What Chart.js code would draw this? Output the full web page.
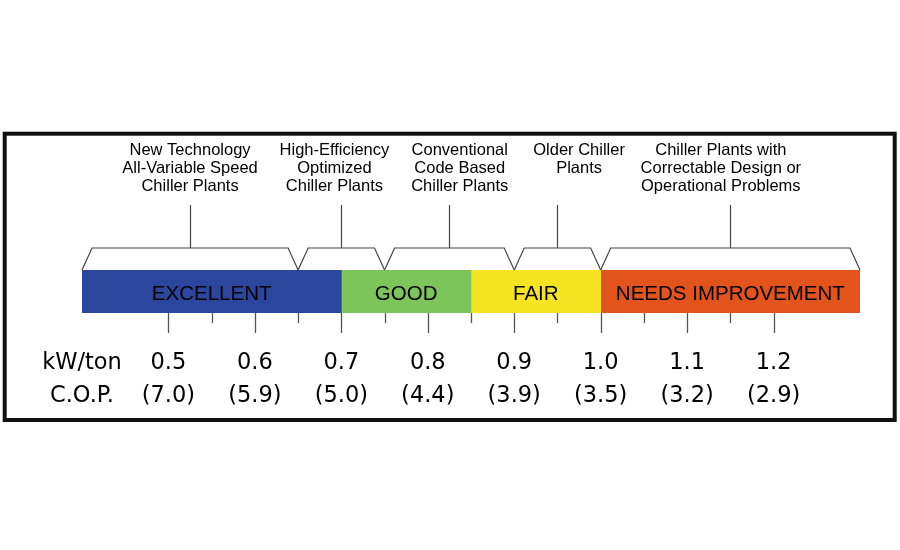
<!DOCTYPE html>
<html>
<head>
<meta charset="utf-8">
<script src="https://cdn.jsdelivr.net/npm/chart.js@4"></script>
<style>
  html, body { margin: 0; padding: 0; background: #fff; }
  canvas { display: block; }
</style>
</head>
<body>
<canvas id="scale" width="900" height="550"></canvas>
<script>
// efficiency bands (kW/ton)
const bands     = ['EXCELLENT', 'GOOD', 'FAIR', 'NEEDS IMPROVEMENT'];
const bandFrom  = [0.4, 0.7, 0.85, 1.0];
const bandTo    = [0.7, 0.85, 1.0, 1.3];
const bandColors = ['#2b469d', '#7dc55b', '#f6e423', '#e3541d'];

// tick labels
const kwTicks = [0.5, 0.6, 0.7, 0.8, 0.9, 1.0, 1.1, 1.2];
const copVals = [7.0, 5.9, 5.0, 4.4, 3.9, 3.5, 3.2, 2.9];

// plant types with their brackets
const groupFrom = [0.4, 0.65, 0.75, 0.9, 1.0];
const groupTo   = [0.65, 0.75, 0.9, 1.0, 1.3];
const groupText = [
  ['New Technology', 'All-Variable Speed', 'Chiller Plants'],
  ['High-Efficiency', 'Optimized', 'Chiller Plants'],
  ['Conventional', 'Code Based', 'Chiller Plants'],
  ['Older Chiller', 'Plants'],
  ['Chiller Plants with', 'Correctable Design or', 'Operational Problems']
];
const groupTextAt = [0.525, 0.692, 0.837, 0.975, 1.139];

const extras = {
  id: 'extras',
  afterDatasetsDraw(chart) {
    const ctx = chart.ctx, xs = chart.scales.x, a = chart.chartArea;
    const px = v => xs.getPixelForValue(v);
    ctx.save();

    // band names
    ctx.fillStyle = '#000';
    ctx.font = '20.5px "Liberation Sans", Arial, sans-serif';
    ctx.textAlign = 'center';
    ctx.textBaseline = 'alphabetic';
    bands.forEach((b, i) => {
      ctx.fillText(b, px((bandFrom[i] + bandTo[i]) / 2), a.bottom - 13);
    });

    // tick marks under the bar
    ctx.strokeStyle = '#555';
    ctx.lineWidth = 1.3;
    kwTicks.forEach((v, i) => {
      const x = Math.round(px(v)) + 0.5;
      ctx.beginPath(); ctx.moveTo(x, a.bottom); ctx.lineTo(x, a.bottom + 20); ctx.stroke();
      if (i < kwTicks.length - 1) {
        const m = Math.round(px((v + kwTicks[i + 1]) / 2)) + 0.5;
        ctx.beginPath(); ctx.moveTo(m, a.bottom); ctx.lineTo(m, a.bottom + 10); ctx.stroke();
      }
    });

    // brackets and pointers
    ctx.strokeStyle = '#444';
    ctx.lineWidth = 1.2;
    const bt = a.top - 22;
    groupFrom.forEach((s, i) => {
      const x0 = px(s), x1 = px(groupTo[i]);
      ctx.beginPath();
      ctx.moveTo(x0, a.top);
      ctx.lineTo(x0 + 10, bt);
      ctx.lineTo(x1 - 10, bt);
      ctx.lineTo(x1, a.top);
      ctx.stroke();
      const m = Math.round(px((s + groupTo[i]) / 2)) + 0.5;
      ctx.beginPath(); ctx.moveTo(m, bt); ctx.lineTo(m, a.top - 65); ctx.stroke();
    });

    // plant type captions
    ctx.fillStyle = '#000';
    ctx.font = '16.5px "Liberation Sans", Arial, sans-serif';
    groupText.forEach((lines, i) => {
      lines.forEach((t, j) => {
        ctx.fillText(t, px(groupTextAt[i]), a.top - 115.5 + j * 18.3);
      });
    });
    ctx.restore();
  },
  afterDraw(chart) {
    const ctx = chart.ctx;
    ctx.save();
    ctx.strokeStyle = '#111';
    ctx.lineWidth = 4;
    ctx.strokeRect(4.7, 133.7, 890, 286.3);
    ctx.restore();
  }
};

new Chart(document.getElementById('scale'), {
  type: 'bar',
  data: {
    labels: [''],
    datasets: bands.map((b, i) => ({
      label: b,
      data: [[bandFrom[i], bandTo[i]]],
      backgroundColor: bandColors[i],
      borderWidth: 0,
      grouped: false,
      barPercentage: 1,
      categoryPercentage: 1
    }))
  },
  options: {
    indexAxis: 'y',
    responsive: false,
    animation: false,
    devicePixelRatio: 1,
    layout: { padding: { left: 82, right: 40, top: 270, bottom: 0 } },
    scales: {
      x: {
        type: 'linear', min: 0.4, max: 1.3,
        border: { display: false },
        grid: { display: false, drawTicks: false },
        afterFit: s => { s.height = 237; },
        ticks: {
          stepSize: 0.1, autoSkip: false, maxRotation: 0, padding: 33,
          color: '#000',
          font: { family: '"DejaVu Sans", sans-serif', size: 22.5, lineHeight: 1.49 },
          callback: v => {
            const k = Math.round(v * 10);
            if (k === 4) return ['kW/ton', 'C.O.P.'];
            const i = kwTicks.findIndex(t => Math.round(t * 10) === k);
            return i < 0 ? '' : [kwTicks[i].toFixed(1), '(' + copVals[i].toFixed(1) + ')'];
          }
        }
      },
      y: { display: false }
    },
    plugins: { legend: { display: false }, tooltip: { enabled: false } }
  },
  plugins: [extras]
});
</script>
</body>
</html>
